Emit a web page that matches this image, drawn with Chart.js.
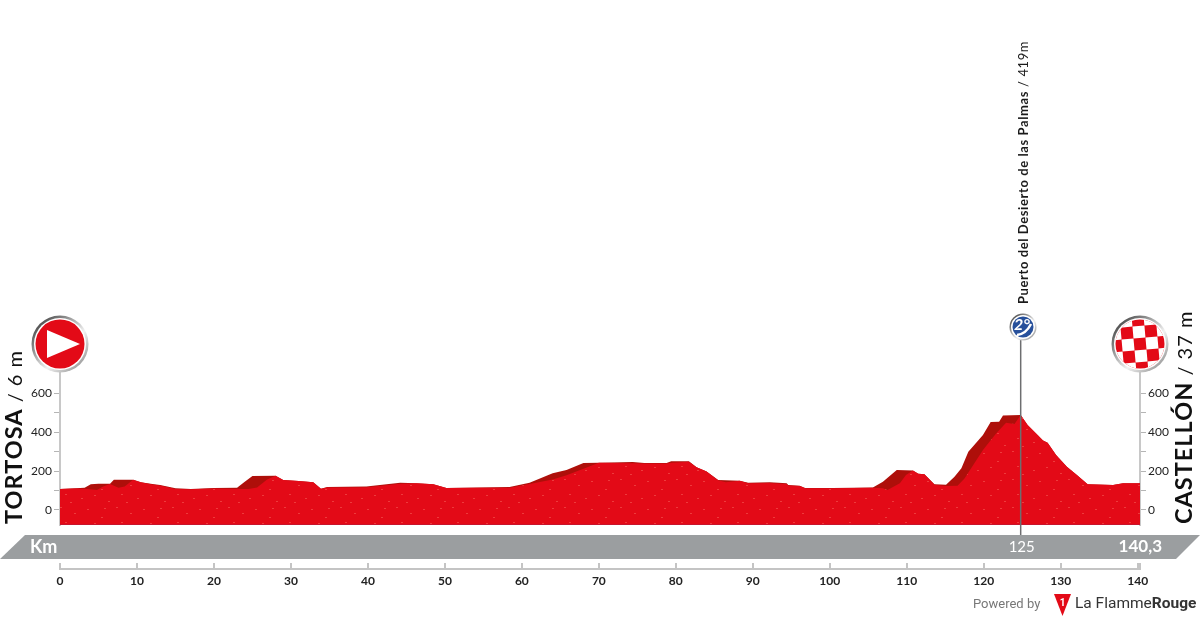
<!DOCTYPE html>
<html lang="en">
<head>
    <meta charset="UTF-8">
    <title>Tortosa - Castellón</title>
    <script src="https://cdn.jsdelivr.net/npm/chart.js"></script>
    <style>
        html, body { margin: 0; padding: 0; background: #fff; }
        canvas { display: block; }
    </style>
</head>
<body>
    <canvas id="profile" width="1200" height="620"></canvas>

    <script>
        // outline of the whole profile (dark shaded side shows where it sticks out)
        const backKm = [0, 2, 3.2, 4, 5, 6.5, 7, 9.5, 10.5, 12, 13, 15, 17, 20, 23, 24, 25, 28, 29, 31, 32.9, 33.9, 34.7, 39.8, 44.2, 46.3, 48.5, 50.2, 54.5, 58.4, 61, 64, 65.8, 68, 70, 74.4, 75.9, 78.8, 79.4, 81.7, 82.7, 84, 85.5, 88.3, 89.4, 92.2, 94.4, 94.6, 96.1, 96.8, 100.4, 105.6, 106.9, 108.7, 110.8, 111.5, 112.3, 113.6, 115.1, 116.2, 117.1, 118, 119.9, 120.9, 122, 122.5, 124.8, 125.7, 127, 127.7, 128.3, 129.4, 130.8, 132.1, 133.5, 136.8, 138.1, 140.3];
        const backElev = [108, 111, 114, 132, 135, 135, 155, 155, 142, 133, 128, 111, 108, 113, 114, 145, 174, 176, 154, 149, 142, 109, 118, 120, 140, 137, 132, 113, 116, 118, 140, 188, 205, 241, 243, 246, 241, 241, 250, 250, 219, 197, 154, 150, 140, 142, 137, 128, 125, 113, 113, 116, 145, 205, 203, 186, 183, 132, 130, 171, 214, 299, 385, 451, 453, 485, 487, 436, 385, 356, 345, 282, 222, 179, 132, 128, 137, 137];

        // lit side of the profile, drawn on top of the outline
        const frontKm = [0, 2, 3.2, 4.8, 5.6, 6.5, 7.6, 8.4, 9.5, 10.5, 12, 13, 15, 17, 20, 23.4, 24.5, 25.6, 26.9, 28, 29, 31, 32.9, 33.9, 34.7, 39.8, 44.2, 46.3, 48.5, 50.2, 54.5, 58.4, 61, 64, 65.8, 68, 70, 74.4, 75.9, 78.8, 79.4, 81.7, 82.7, 84, 85.5, 86.5, 88.3, 89.4, 92.2, 94.4, 94.6, 96.1, 96.8, 100.4, 105.6, 106.9, 107.5, 109.1, 109.9, 110.8, 111.5, 112.3, 113.6, 115.1, 116.6, 117.5, 119.9, 121.6, 122.9, 124, 124.8, 125.7, 127, 127.7, 128.3, 129.4, 130.8, 132.1, 133.5, 136.8, 138.1, 140.3];
        const frontElev = [108, 110, 109, 103, 120, 133, 114, 120, 155, 142, 131, 126, 108, 106, 110, 108, 108, 116, 157, 176, 154, 149, 142, 109, 115, 117, 135, 137, 132, 113, 114, 114, 133, 157, 178, 212, 243, 240, 238, 238, 242, 248, 219, 197, 152, 142, 150, 137, 138, 134, 126, 123, 111, 111, 114, 112, 103, 137, 179, 203, 186, 183, 130, 123, 125, 162, 308, 393, 448, 441, 487, 436, 385, 356, 345, 282, 222, 179, 132, 128, 137, 137];

        const kmTicks = [0, 10, 20, 30, 40, 50, 60, 70, 80, 90, 100, 110, 120, 130, 140];
        const elevTicks = [0, 100, 200, 300, 400, 500, 600];
        const elevLabels = [0, 200, 400, 600];

        const startName = 'TORTOSA';
        const startInfo = ' / 6 m';
        const finishName = 'CASTELLÓN';
        const finishInfo = ' / 37 m';
        const climbName = 'Puerto del Desierto de las Palmas';
        const climbInfo = ' / 419m';
        const climbKm = 124.8;
        const climbLabel = '125';
        const totalKm = 140.3;
        const totalLabel = '140,3';

        const FONT = 'Lato, sans-serif';

        function toPoints(xs, ys) {
            return xs.map((x, i) => ({ x: x, y: ys[i] }));
        }

        // speckled texture of the profile fill
        function speckle() {
            const tile = document.createElement('canvas');
            tile.width = 56;
            tile.height = 28;
            const c = tile.getContext('2d');
            c.fillStyle = '#e30a17';
            c.fillRect(0, 0, 56, 28);
            c.fillStyle = '#ee3a3c';
            [[4, 3], [18, 9], [31, 5], [45, 13], [9, 18], [25, 22], [38, 19], [52, 25], [14, 26], [48, 4]].forEach(p => {
                c.fillRect(p[0], p[1], 2, 1);
            });
            return c.createPattern(tile, 'repeat');
        }

        function ringBadge(ctx, x, y, r, inner, color) {
            const g = ctx.createLinearGradient(x - r, y - r, x + r, y + r);
            g.addColorStop(0, '#222');
            g.addColorStop(0.35, '#999');
            g.addColorStop(0.6, '#f2f2f2');
            g.addColorStop(1, '#777');
            ctx.beginPath();
            ctx.arc(x, y, r, 0, Math.PI * 2);
            ctx.fillStyle = g;
            ctx.fill();
            ctx.beginPath();
            ctx.arc(x, y, inner + 1.5, 0, Math.PI * 2);
            ctx.fillStyle = '#fff';
            ctx.fill();
            ctx.beginPath();
            ctx.arc(x, y, inner, 0, Math.PI * 2);
            ctx.fillStyle = color;
            ctx.fill();
        }

        // rotated caption: bold name then regular part, read bottom to top
        function sideText(ctx, x, y, bold, regular, boldFont, regFont, color, spacing, wordGap) {
            ctx.save();
            ctx.translate(x, y);
            ctx.rotate(-Math.PI / 2);
            ctx.textAlign = 'left';
            ctx.textBaseline = 'alphabetic';
            ctx.fillStyle = color;
            ctx.letterSpacing = spacing;
            ctx.font = boldFont;
            ctx.fillText(bold, 0, 0);
            const w = ctx.measureText(bold).width;
            ctx.font = regFont;
            ctx.wordSpacing = wordGap;
            ctx.fillText(regular, w, 0);
            ctx.restore();
        }

        const decorations = {
            id: 'decorations',
            afterDraw: (chart) => {
                const ctx = chart.ctx;
                const xs = chart.scales.x;
                const area = chart.chartArea;
                const x0 = xs.getPixelForValue(0);
                const xEnd = xs.getPixelForValue(totalKm);
                const xClimb = xs.getPixelForValue(climbKm);

                ctx.save();

                // darker edge under the profile
                ctx.fillStyle = '#c8142c';
                ctx.fillRect(x0, area.bottom - 1, xEnd - x0, 1);

                // grey distance band
                ctx.beginPath();
                ctx.moveTo(25, 535);
                ctx.lineTo(1200, 535);
                ctx.lineTo(1176, 559);
                ctx.lineTo(0, 559);
                ctx.closePath();
                ctx.fillStyle = '#9b9ea0';
                ctx.fill();

                ctx.fillStyle = '#fff';
                ctx.textBaseline = 'middle';
                ctx.textAlign = 'left';
                ctx.font = 'bold 18px ' + FONT;
                ctx.fillText('Km', 30, 547);
                ctx.textAlign = 'right';
                ctx.font = 'bold 17px ' + FONT;
                ctx.fillText(totalLabel, 1162, 547);
                ctx.textAlign = 'center';
                ctx.font = '15px ' + FONT;
                ctx.fillText(climbLabel, xClimb + 1, 547);

                // distance ruler under the band
                ctx.strokeStyle = '#c4c4c4';
                ctx.lineWidth = 2;
                ctx.beginPath();
                ctx.moveTo(x0, 569);
                ctx.lineTo(xEnd, 569);
                kmTicks.concat([totalKm]).forEach(km => {
                    const px = Math.round(xs.getPixelForValue(km));
                    ctx.moveTo(px, 570);
                    ctx.lineTo(px, 563);
                });
                ctx.stroke();

                // climb marker
                ctx.strokeStyle = '#6d6e70';
                ctx.lineWidth = 1.5;
                ctx.beginPath();
                ctx.moveTo(xClimb, 335);
                ctx.lineTo(xClimb, 535);
                ctx.stroke();
                ringBadge(ctx, 1023, 327, 13.5, 10.5, '#27509b');
                ctx.fillStyle = '#fff';
                ctx.textAlign = 'center';
                ctx.textBaseline = 'middle';
                ctx.font = 'italic bold 16px ' + FONT;
                ctx.fillText('2°', 1022, 325);
                ctx.strokeStyle = '#fff';
                ctx.lineWidth = 2.5;
                ctx.beginPath();
                ctx.moveTo(1017, 335);
                ctx.quadraticCurveTo(1026, 334, 1031, 324);
                ctx.stroke();

                sideText(ctx, 1028, 304, climbName, climbInfo, 'bold 13px ' + FONT, '13px ' + FONT, '#1a1a1a', '0.6px', '0px');

                // start badge
                ringBadge(ctx, x0, 344, 28.5, 24.5, '#e30a17');
                ctx.fillStyle = '#fff';
                ctx.beginPath();
                ctx.moveTo(47, 330);
                ctx.lineTo(80, 344);
                ctx.lineTo(47, 358);
                ctx.closePath();
                ctx.fill();

                // finish badge, checkered
                ringBadge(ctx, xEnd, 344, 28.5, 24.5, '#e30a17');
                ctx.save();
                ctx.beginPath();
                ctx.arc(xEnd, 344, 24.5, 0, Math.PI * 2);
                ctx.clip();
                ctx.translate(xEnd, 344);
                ctx.rotate(-5 * Math.PI / 180);
                ctx.fillStyle = '#fff';
                for (let i = -3; i <= 3; i++) {
                    for (let j = -3; j <= 3; j++) {
                        if (Math.abs(i + j) % 2 === 1) {
                            ctx.fillRect(i * 12 - 6, j * 12 - 6, 12, 12);
                        }
                    }
                }
                ctx.restore();

                sideText(ctx, 22, 524, startName, startInfo, 'bold 23.5px ' + FONT, '20px ' + FONT, '#111', '1px', '-3px');
                sideText(ctx, 1192, 524, finishName, finishInfo, 'bold 23.5px ' + FONT, '20px ' + FONT, '#111', '1px', '-3px');

                // footer logo
                ctx.textBaseline = 'alphabetic';
                ctx.textAlign = 'left';
                ctx.fillStyle = '#777';
                ctx.font = '13px Roboto, sans-serif';
                ctx.fillText('Powered by', 973, 608);
                ctx.fillStyle = '#e30a17';
                ctx.beginPath();
                ctx.moveTo(1054, 594);
                ctx.lineTo(1071, 594);
                ctx.lineTo(1062.5, 616);
                ctx.closePath();
                ctx.fill();
                ctx.fillStyle = '#fff';
                ctx.textAlign = 'center';
                ctx.font = 'bold 10px Roboto, sans-serif';
                ctx.fillText('1', 1062.5, 606);
                ctx.textAlign = 'left';
                ctx.fillStyle = '#333';
                ctx.font = '15.5px Roboto, sans-serif';
                ctx.fillText('La Flamme', 1075, 608);
                const w = ctx.measureText('La Flamme').width;
                ctx.font = 'bold 15.5px Roboto, sans-serif';
                ctx.fillText('Rouge', 1075 + w, 608);

                ctx.restore();
            }
        };

        document.addEventListener('DOMContentLoaded', function() {
            const ctx = document.getElementById('profile').getContext('2d');

            const yAxis = (position, width) => ({
                type: 'linear',
                position: position,
                min: -77,
                max: 703,
                afterBuildTicks: (scale) => {
                    scale.ticks = elevTicks.map(v => ({ value: v }));
                },
                afterFit: (scale) => { scale.width = width; },
                border: { color: '#c8c8c8', width: 2 },
                grid: { drawOnChartArea: false, color: '#b5b5b5', tickLength: 6 },
                ticks: {
                    padding: 2,
                    color: '#222',
                    font: { family: 'Lato', size: 12 },
                    callback: (v) => elevLabels.includes(v) ? String(v) : ''
                }
            });

            new Chart(ctx, {
                type: 'line',
                data: {
                    datasets: [
                        {
                            label: 'Front',
                            data: toPoints(frontKm, frontElev),
                            backgroundColor: speckle(),
                            borderWidth: 0,
                            pointRadius: 0,
                            fill: 'start',
                            tension: 0
                        },
                        {
                            label: 'Outline',
                            data: toPoints(backKm, backElev),
                            backgroundColor: '#ae0f0a',
                            borderWidth: 0,
                            pointRadius: 0,
                            fill: 'start',
                            tension: 0
                        }
                    ]
                },
                options: {
                    responsive: false,
                    animation: false,
                    layout: { padding: { top: 373, left: 0, right: 0, bottom: 0 } },
                    plugins: { legend: { display: false }, tooltip: { enabled: false } },
                    scales: {
                        x: {
                            type: 'linear',
                            min: 0,
                            max: totalKm,
                            afterBuildTicks: (scale) => {
                                scale.ticks = kmTicks.map(v => ({ value: v }));
                            },
                            afterFit: (scale) => { scale.height = 95; },
                            border: { display: false },
                            grid: { display: false },
                            ticks: {
                                padding: 41,
                                autoSkip: false,
                                maxRotation: 0,
                                color: '#222',
                                font: { family: 'Lato', size: 12, weight: 'bold' }
                            }
                        },
                        y: yAxis('left', 60),
                        yRight: yAxis('right', 60)
                    }
                },
                plugins: [decorations]
            });
        });
    </script>
</body>
</html>
